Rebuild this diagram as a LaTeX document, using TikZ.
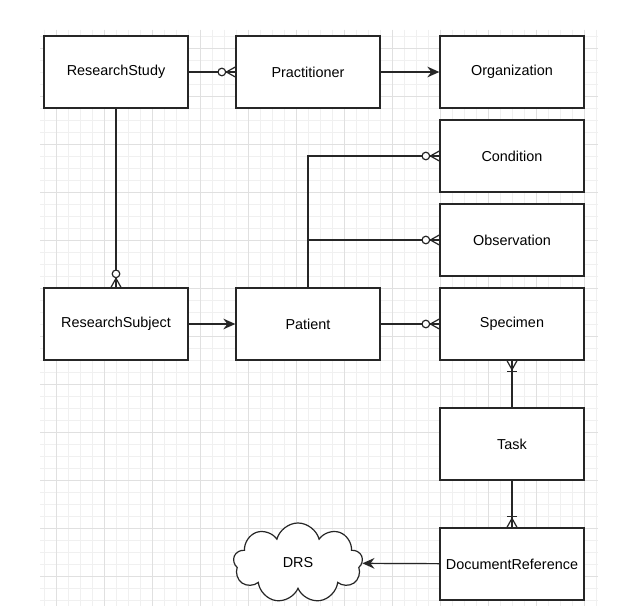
\documentclass[tikz,border=0pt]{standalone}
\usepackage{fontspec}
\setmainfont{Liberation Sans}
\usetikzlibrary{arrows.meta,shapes.symbols}
\newcommand\zmany[2]{\begin{scope}[shift={(#1)},rotate=#2]
  \draw[conn] (0,5) -- (9,0) -- (0,-5);
  \draw[conn,fill=white] (13.5,0) circle (3.8);
\end{scope}}
\newcommand\omany[2]{\begin{scope}[shift={(#1)},rotate=#2]
  \draw[conn] (0,5) -- (9,0) -- (0,-5);
  \draw[conn] (11,5) -- (11,-5);
\end{scope}}
\begin{document}
\begin{tikzpicture}[x=0.75pt,y=-0.75pt,
  box/.style={draw=black!85, line width=1pt, fill=white, minimum width=108pt, minimum height=54pt, inner sep=0pt, font=\fontsize{10.8}{12}\selectfont},
  conn/.style={draw=black!85, line width=0.9pt},
  arr/.style={conn, -{Stealth[length=9pt,width=8pt,inset=3pt]}},
  gridminor/.style={draw=black!6, line width=0.5pt},
  gridmajor/.style={draw=black!12, line width=0.5pt}]
\useasboundingbox[fill=white] (0,0) rectangle (637,606);
% grid
\foreach \x in {44,56,...,596} \draw[gridminor] (\x,30) -- (\x,606);
\foreach \y in {36,48,...,600} \draw[gridminor] (40,\y) -- (598,\y);
\foreach \x in {56,104,...,584} \draw[gridmajor] (\x,30) -- (\x,606);
\foreach \y in {48,96,...,576} \draw[gridmajor] (40,\y) -- (598,\y);
% nodes
\node[box] (rs) at (116,72) {ResearchStudy};
\node[box] (pr) at (308,72) {Practitioner};
\node[box] (org) at (512,72) {Organization};
\node[box] (cond) at (512,156) {Condition};
\node[box] (obs) at (512,240) {Observation};
\node[box] (spec) at (512,324) {Specimen};
\node[box] (rsub) at (116,324) {ResearchSubject};
\node[box] (pat) at (308,324) {Patient};
\node[box] (task) at (512,444) {Task};
\node[box] (doc) at (512,564) {DocumentReference};
\node[cloud, draw=black!85, line width=0.9pt, fill=white, cloud puffs=9, aspect=1.6, minimum width=97pt, minimum height=60pt, inner sep=0pt, font=\fontsize{10.8}{12}\selectfont] (drs) at (298,563) {DRS};
% connectors
\draw[conn] (rs) -- (pr);
\zmany{pr.west}{180}
\draw[arr] (pr) -- (org);
\draw[conn] (rs) -- (rsub);
\zmany{rsub.north}{90}
\draw[arr] (rsub) -- (pat);
\draw[conn] (pat) -- (spec);
\zmany{spec.west}{180}
\draw[conn] (pat.north) |- (cond.west);
\zmany{cond.west}{180}
\coordinate (j) at (pat.north |- obs.west);
\draw[conn] (j) -- (obs.west);
\zmany{obs.west}{180}
\draw[conn] (spec) -- (task);
\omany{spec.south}{-90}
\draw[conn] (task) -- (doc);
\omany{doc.north}{90}
\draw[arr] (doc) -- (drs);
\end{tikzpicture}
\end{document}
